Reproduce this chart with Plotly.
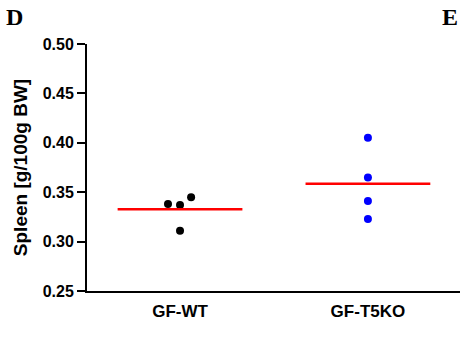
import plotly.graph_objects as go

groups = ["GF-WT", "GF-T5KO"]
wt_values = [0.338, 0.337, 0.345, 0.311]
wt_jitter = [-0.064, 0.0, 0.059, 0.0]
t5ko_values = [0.405, 0.365, 0.341, 0.323]
t5ko_jitter = [0.0, 0.0, 0.0, 0.0]
colors = ["black", "blue"]
y_ticks = [0.25, 0.30, 0.35, 0.40, 0.45, 0.50]

series = [wt_values, t5ko_values]
jitters = [wt_jitter, t5ko_jitter]

fig = go.Figure()
half = 0.332
for i, (vals, jit, col) in enumerate(zip(series, jitters, colors)):
    fig.add_trace(go.Scatter(
        x=[i + j for j in jit], y=vals, mode="markers",
        marker=dict(color=col, size=8, line=dict(width=0)),
        showlegend=False, hoverinfo="skip"))
    m = sum(vals) / len(vals)
    fig.add_trace(go.Scatter(
        x=[i - half, i + half], y=[m, m], mode="lines",
        line=dict(color="red", width=2.5),
        showlegend=False, hoverinfo="skip"))

bold = dict(family="Liberation Sans, Arial", color="black", weight="bold")
fig.update_layout(
    width=461, height=337,
    margin=dict(l=87, r=1, t=44, b=46),
    plot_bgcolor="white", paper_bgcolor="white",
    font=dict(family="Liberation Sans, Arial", color="black"),
    xaxis=dict(range=[-0.495, 1.49], tickvals=[0, 1], ticktext=groups,
               showline=True, linecolor="black", linewidth=2,
               ticks="outside", ticklen=4, tickcolor="rgba(0,0,0,0)",
               showgrid=False, zeroline=False,
               tickfont=dict(size=17, **bold)),
    yaxis=dict(range=[0.25, 0.50], tickvals=y_ticks, tickformat=".2f",
               showline=True, linecolor="black", linewidth=2,
               ticks="outside", ticklen=8, tickwidth=2, tickcolor="black",
               showgrid=False, zeroline=False,
               tickfont=dict(size=16, **bold),
               title=dict(text="Spleen [g/100g BW]", standoff=10,
                          font=dict(size=19, **bold))),
)
fig.layout.annotations = [
    dict(text="<b>D</b>", x=(4 - 87) / 373, y=1 + (44 - 2) / 247, xref="paper", yref="paper",
         showarrow=False, xanchor="left", yanchor="top",
         font=dict(family="Liberation Serif, Times New Roman", size=24, color="black")),
    dict(text="<b>E</b>", x=(440 - 87) / 373, y=1 + (44 - 2) / 247, xref="paper", yref="paper",
         showarrow=False, xanchor="left", yanchor="top",
         font=dict(family="Liberation Serif, Times New Roman", size=24, color="black")),
]

fig.write_html("out.html")
